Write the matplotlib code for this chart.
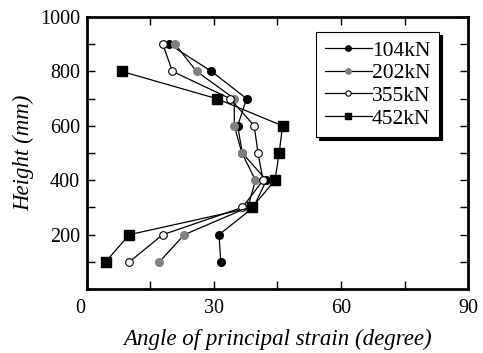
import numpy as np
import matplotlib.pyplot as plt
from matplotlib.transforms import ScaledTranslation

plt.rcParams['font.family'] = 'Liberation Serif'

# Alturas (mm) y ángulos de deformación principal (grados)
heights = [900, 800, 700, 600, 500, 400, 300, 200, 100]
angle_104 = [19.4, 29.4, 37.7, 35.6, 36.7, 42.4, 39.3, 31.2, 31.6]
angle_202 = [20.8, 25.9, 34.8, 34.8, 36.6, 39.8, 38.0, 23.0, 17.1]
angle_355 = [17.9, 20.2, 33.8, 39.5, 40.4, 41.6, 36.7, 17.9, 10.0]
heights_452 = [800, 700, 600, 500, 400, 300, 200, 100]
angle_452 = [8.2, 30.6, 46.2, 45.4, 44.4, 39.0, 10.0, 4.4]

fig = plt.figure(figsize=(4.83, 3.53), dpi=100)
ax = fig.add_axes([0.180, 0.181, 0.789, 0.771])

ax.plot(angle_104, heights, '-o', color='black', mfc='black', mec='black', ms=5.5, lw=0.9, label='104kN')
ax.plot(angle_202, heights, '-o', color='black', mfc='#808080', mec='#808080', ms=5.5, lw=0.9, label='202kN')
ax.plot(angle_355, heights, '-o', color='black', mfc='white', mec='black', mew=0.8, ms=5.5, lw=0.9, label='355kN')
ax.plot(angle_452, heights_452, '-s', color='black', mfc='black', mec='black', ms=6.5, lw=0.9, label='452kN')

ax.set_xlim(0, 90)
ax.set_ylim(0, 1000)
ax.set_xticks([0, 30, 60, 90])
ax.set_xticks([15, 45, 75], minor=True)
ax.set_yticks([200, 400, 600, 800, 1000])
ax.set_yticks([100, 300, 500, 700, 900], minor=True)
ax.tick_params(which='both', direction='in', top=True, right=True, labelsize=14.5, width=1)
ax.tick_params(which='major', length=6, pad=5)
ax.tick_params(axis='x', which='major', pad=7)
ax.tick_params(which='minor', length=6)
for s in ax.spines.values():
    s.set_linewidth(2)

# el "0" del eje x está algo desplazado a la izquierda en el original
lbl0 = ax.xaxis.get_major_ticks()[0].label1
lbl0.set_transform(lbl0.get_transform() + ScaledTranslation(-0.07, 0, fig.dpi_scale_trans))

ax.set_xlabel('Angle of principal strain (degree)', fontsize=16.5, style='italic', labelpad=8)
ax.set_ylabel('Height (mm)', fontsize=16.5, style='italic', labelpad=4)

leg = ax.legend(loc='upper right', bbox_to_anchor=(0.924, 0.945), borderaxespad=0, fontsize=15.5, frameon=True,
                fancybox=False, edgecolor='black', markerscale=0.7, handlelength=2.2, handletextpad=0.0,
                borderpad=0.4, labelspacing=0.12, shadow={'color': 'black', 'alpha': 1.0})
leg.get_frame().set_linewidth(0.8)

fig.savefig('out.png', dpi=100)
